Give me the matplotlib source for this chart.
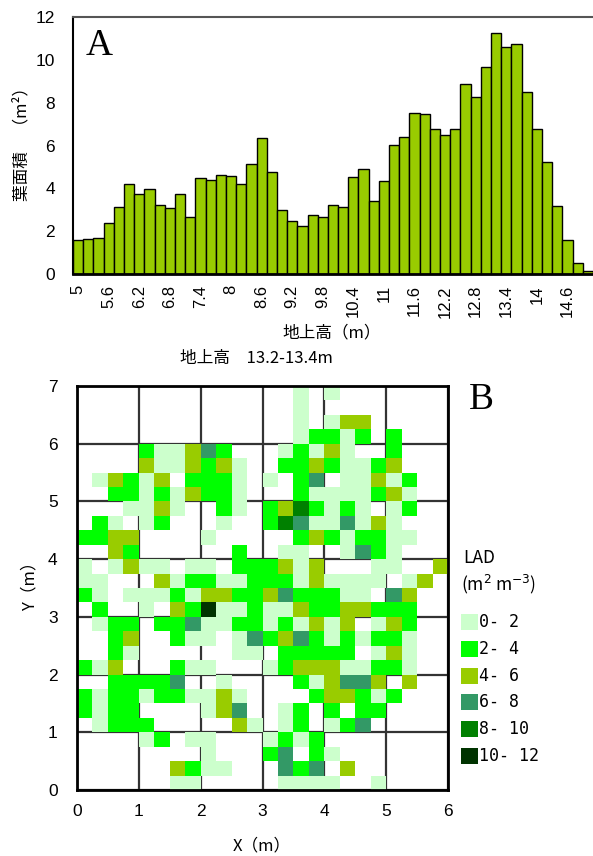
import matplotlib
matplotlib.use("Agg")
import matplotlib.pyplot as plt
import numpy as np
from matplotlib.colors import ListedColormap, BoundaryNorm
from matplotlib.patches import Rectangle

plt.rcParams['font.family'] = ['Noto Sans CJK JP', 'DejaVu Sans']

# ---- panel A: leaf area per 0.2 m height bin ----
bin_heights = np.round(np.arange(5.0, 15.01, 0.2), 1)
leaf_area = [1.57, 1.63, 1.70, 2.37, 3.13, 4.19, 3.75, 3.95, 3.24, 3.07,
             3.74, 2.68, 4.47, 4.40, 4.64, 4.58, 4.19, 5.13, 6.34, 4.75,
             3.00, 2.46, 2.24, 2.74, 2.68, 3.24, 3.13, 4.53, 4.90, 3.39,
             4.34, 6.02, 6.42, 7.53, 7.49, 6.78, 6.50, 6.78, 8.87, 8.26,
             9.66, 11.26, 10.59, 10.76, 8.48, 6.78, 5.22, 3.18, 1.60, 0.50,
             0.12]
tick_labels = ["5", "5.6", "6.2", "6.8", "7.4", "8", "8.6", "9.2", "9.8",
               "10.4", "11", "11.6", "12.2", "12.8", "13.4", "14", "14.6"]

# ---- panel B: LAD class per 0.25 m cell (rows from y=7 down to y=0) ----
# 0 empty, 1: 0-2, 2: 2-4, 3: 4-6, 4: 6-8, 5: 8-10, 6: 10-12
lad_rows = [
    "000000000000" "001010000000",
    "000000000000" "001000000000",
    "000000000000" "001013300000",
    "000000000000" "001221202000",
    "000021134200" "012131002000",
    "000031132310" "022321123000",
    "013213022210" "102401131200",
    "002212132210" "002111123100",
    "000113100210" "235212101200",
    "021012000100" "254114131000",
    "223300001000" "002321221100",
    "003200000020" "011001421000",
    "101311011022" "231300011003",
    "110003122112" "221311110130",
    "210111213322" "342221104300",
    "020010326112" "113223322200",
    "012202241122" "121313013200",
    "002300211014" "234212122100",
    "002100000011" "022222013100",
    "213000211000" "123331122100",
    "002222400100" "002134430300",
    "212212211310" "000233212000",
    "212200001340" "012020220000",
    "012220000031" "012012400000",
    "000012011000" "121200000000",
    "000000001000" "240210000000",
    "000000321100" "042403000000",
    "000000110000" "011110010000",
]
lad_labels = ["0- 2", "2- 4", "4- 6", "6- 8", "8- 10", "10- 12"]
lad_colors = ["#CCFFCC", "#00FF00", "#99CC00", "#339966", "#008000", "#003300"]

W, H = 593, 856
fig = plt.figure(figsize=(W / 100, H / 100), dpi=100)


def fx(x):
    return x / W


def fy(y):
    return 1 - y / H


num_font = ['Liberation Sans', 'DejaVu Sans']
serif = ['Liberation Serif', 'DejaVu Serif']

# ---------- A ----------
axA = fig.add_axes([fx(73), fy(274), 520 / W, 257 / H])
idx = np.arange(len(bin_heights))
axA.bar(idx, leaf_area, width=1.0, color="#99CC00", edgecolor="black",
        linewidth=1.0)
axA.set_xlim(-0.5, 50.5)
axA.set_ylim(0, 12)
axA.set_yticks(range(0, 13, 2))
axA.set_yticklabels([str(v) for v in range(0, 13, 2)], family=num_font,
                    fontsize=12.5)
axA.set_xticks(idx[::3])
axA.set_xticklabels(tick_labels, rotation=90, family=num_font, fontsize=12)
axA.tick_params(length=0, pad=8)
axA.tick_params(axis='y', pad=13)
axA.spines['top'].set_color('#555555')
axA.spines['top'].set_linewidth(1.5)
axA.spines['left'].set_linewidth(1.5)
axA.spines['bottom'].set_linewidth(2)
axA.spines['right'].set_visible(False)

fig.text(fx(86), fy(46), "A", family=serif, fontsize=27, ha='left',
         va='center')
fig.text(fx(22), fy(140), "葉面積　（m²）", rotation=90, fontsize=12,
         ha='center', va='center')
fig.text(fx(332), fy(333), "地上高（m）", fontsize=12, ha='center',
         va='center')
fig.text(fx(180), fy(358), "地上高　13.2-13.4m", fontsize=12, ha='left',
         va='center')

# ---------- B ----------
axB = fig.add_axes([fx(77), fy(790), 371 / W, 404 / H])
codes = np.array([[int(c) for c in r] for r in lad_rows], dtype=float)[::-1]
codes = np.ma.masked_equal(codes, 0)
xe = np.linspace(0, 6, codes.shape[1] + 1)
ye = np.linspace(0, 7, codes.shape[0] + 1)
cmap = ListedColormap(lad_colors)
norm = BoundaryNorm(np.arange(0.5, 7.5, 1), cmap.N)
axB.set_axisbelow(True)
axB.grid(True, color='#333333', linewidth=1.6)
axB.pcolormesh(xe, ye, codes, cmap=cmap, norm=norm, zorder=2)
axB.set_xlim(0, 6)
axB.set_ylim(0, 7)
axB.set_xticks(range(7))
axB.set_yticks(range(8))
axB.set_xticklabels([str(v) for v in range(7)], family=num_font, fontsize=12.5)
axB.set_yticklabels([str(v) for v in range(8)], family=num_font, fontsize=12.5)
axB.tick_params(length=0)
axB.tick_params(axis='x', pad=10)
axB.tick_params(axis='y', pad=14)
for s in axB.spines.values():
    s.set_linewidth(2)
    s.set_zorder(3)

fig.text(fx(469), fy(400), "B", family=serif, fontsize=27, ha='left',
         va='center')
fig.text(fx(262), fy(846), "X（m）", fontsize=12, ha='center', va='center')
fig.text(fx(30), fy(582), "Y（m）", rotation=90, fontsize=12, ha='center',
         va='center')

fig.text(fx(463), fy(558), "LAD", fontsize=12.5, ha='left', va='center')
fig.text(fx(461), fy(584), "(m$^{2}$ m$^{-3}$)", fontsize=12.5, ha='left',
         va='center')
for i, (lab, col) in enumerate(zip(lad_labels, lad_colors)):
    yc = 622 + i * 26.8
    fig.add_artist(Rectangle((fx(461), fy(yc + 8)), 17 / W, 16 / H,
                             transform=fig.transFigure, facecolor=col,
                             edgecolor='none'))
    fig.text(fx(479), fy(yc), lab, family=['DejaVu Sans Mono'], fontsize=12,
             ha='left', va='center')

fig.savefig("out.png", dpi=100)
